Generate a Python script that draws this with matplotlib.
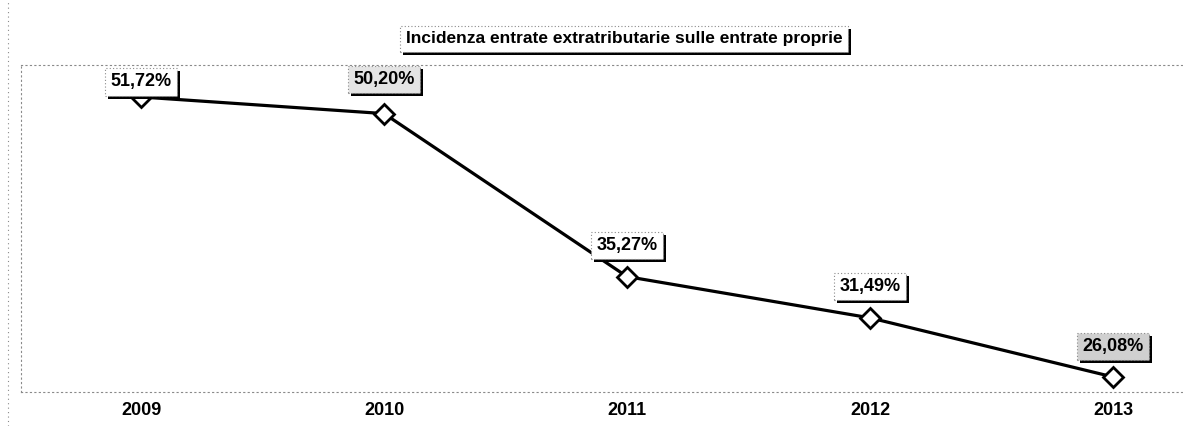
import matplotlib
matplotlib.use("Agg")
import matplotlib.pyplot as plt
from matplotlib.lines import Line2D
from matplotlib.patches import Rectangle

# ---- data ----
years = ["2009", "2010", "2011", "2012", "2013"]
values = [51.72, 50.20, 35.27, 31.49, 26.08]
value_labels = ["51,72%", "50,20%", "35,27%", "31,49%", "26,08%"]
title = "Incidenza entrate extratributarie sulle entrate proprie"

# ---- style ----
plt.rcParams['font.family'] = ['Liberation Sans', 'DejaVu Sans']
W, H, DPI = 1183, 426, 100
PX = 72.0 / DPI  # points per pixel

label_offsets_px = [-15, -34, -31, -31, -30]
label_faces = ['white', '#e4e4e4', 'white', 'white', '#d0d0d0']

fig = plt.figure(figsize=(W / DPI, H / DPI), dpi=DPI)
fig.patch.set_facecolor('white')

ax = fig.add_axes([21 / W, 34 / H, 1 - 21 / W, 327 / H])
xs = list(range(len(years)))
ax.plot(xs, values, color='black', lw=2.3, marker='D', ms=10.5,
        mfc='white', mec='black', mew=2.0, zorder=3, clip_on=False)
ax.set_xlim(-0.494, 4.288)
ax.set_ylim(24.7, 54.65)
ax.set_xticks(xs)
ax.set_xticklabels(years, fontweight='bold', fontsize=13)
ax.tick_params(length=0, pad=7)
ax.set_yticks([])
for s in ['top', 'left', 'bottom']:
    ax.spines[s].set_linestyle((0, (1, 3)))
    ax.spines[s].set_color('#8a8a8a')
    ax.spines[s].set_linewidth(0.8)
ax.spines['right'].set_visible(False)

# data labels
labels_art = []
for x, v, lab, off, fc in zip(xs, values, value_labels, label_offsets_px, label_faces):
    t = ax.annotate(lab, (x, v), xytext=(0, -off * PX), textcoords='offset points',
                    ha='center', va='center', fontsize=13, fontweight='bold', color='black',
                    bbox=dict(boxstyle='square,pad=0.28', fc=fc, ec='#8a8a8a', lw=0.8,
                              ls=(0, (1, 2))),
                    zorder=6, annotation_clip=False)
    labels_art.append(t)

# title
tt = fig.text(624 / W, 1 - 39 / H, title, ha='center', va='center', fontsize=12.5,
              fontweight='bold', color='black', zorder=6,
              bbox=dict(boxstyle='square,pad=0.3', fc='white', ec='#8a8a8a', lw=0.8,
                        ls=(0, (1, 2))))

# shadows (black offset rectangles behind each boxed text)
fig.canvas.draw()
renderer = fig.canvas.get_renderer()
for t in labels_art:
    bb = t.get_bbox_patch().get_window_extent(renderer)
    r = Rectangle((bb.x0 + 3, bb.y0 - 3), bb.width, bb.height,
                  transform=None, fc='black', ec='none', zorder=5)
    r.set_clip_on(False)
    ax.add_artist(r)
bb = tt.get_bbox_patch().get_window_extent(renderer)
fig.add_artist(Rectangle((bb.x0 + 3, bb.y0 - 3), bb.width, bb.height,
                         transform=None, fc='black', ec='none', zorder=5))

# outer frame dotted line on left
fig.add_artist(Line2D([8 / W, 8 / W], [0, 1], transform=fig.transFigure,
                      color='#8a8a8a', lw=0.8, ls=(0, (1, 3))))

fig.savefig('out.png', dpi=DPI)
